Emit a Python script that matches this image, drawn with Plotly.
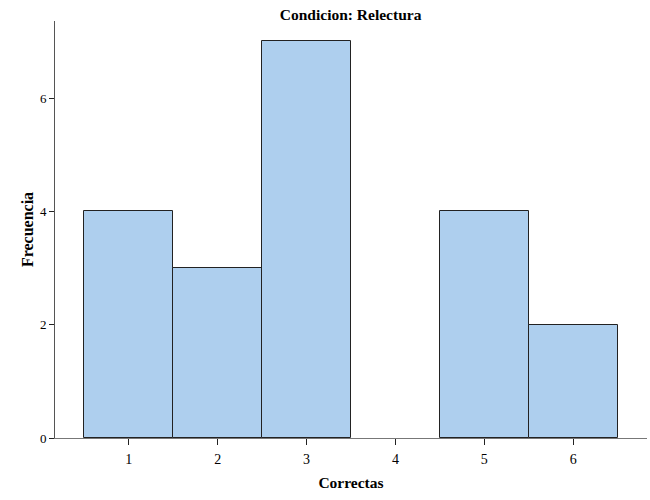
import plotly.graph_objects as go

categories = [1, 2, 3, 5, 6]
counts = [4, 3, 7, 4, 2]
x_ticks = [1, 2, 3, 4, 5, 6]
y_ticks = [0, 2, 4, 6]

W, H = 650, 500
l, r, t, b = 54.5, 3.3, 21, 61.5

fig = go.Figure(go.Bar(
    x=categories, y=counts, width=1,
    marker=dict(color="#AECFEE", line=dict(color="#222222", width=1)),
    hoverinfo="x+y",
))

font = dict(family="Liberation Serif, Times New Roman, serif", color="black")

fig.update_layout(
    width=W, height=H,
    margin=dict(l=l, r=r, t=t, b=b, pad=0),
    paper_bgcolor="white", plot_bgcolor="white",
    showlegend=False,
    bargap=0,
    font=dict(**font, size=13),
    title=dict(text="<b>Condicion: Relectura</b>", x=(l + (W - r)) / 2 / W, xanchor="center",
               y=1 - 15 / H, yanchor="middle", font=dict(**font, size=15.5)),
    xaxis=dict(range=[0.17, 6.83], tickvals=x_ticks, ticktext=[str(v) for v in x_ticks],
               showgrid=False, zeroline=False, showline=True, linecolor="#777", linewidth=1,
               ticks="outside", ticklen=6, tickcolor="#222", tickwidth=1,
               tickfont=dict(**font, size=14), automargin=False, ticklabelstandoff=2,
               title=dict(text="<b>Correctas</b>", font=dict(**font, size=15.5), standoff=11)),
    yaxis=dict(range=[0, 7.36], tickvals=y_ticks, ticktext=[str(v) for v in y_ticks],
               showgrid=False, zeroline=False, showline=True, linecolor="#555", linewidth=1,
               ticks="outside", ticklen=5, tickcolor="#222", tickwidth=1,
               tickfont=dict(**font, size=13), automargin=False,
               title=dict(text="<b>Frecuencia</b>", font=dict(**font, size=16), standoff=2)),
)

fig.write_html("out.html", config={"displayModeBar": False},
               post_script="document.body.style.margin='0';document.body.style.overflow='hidden';")
